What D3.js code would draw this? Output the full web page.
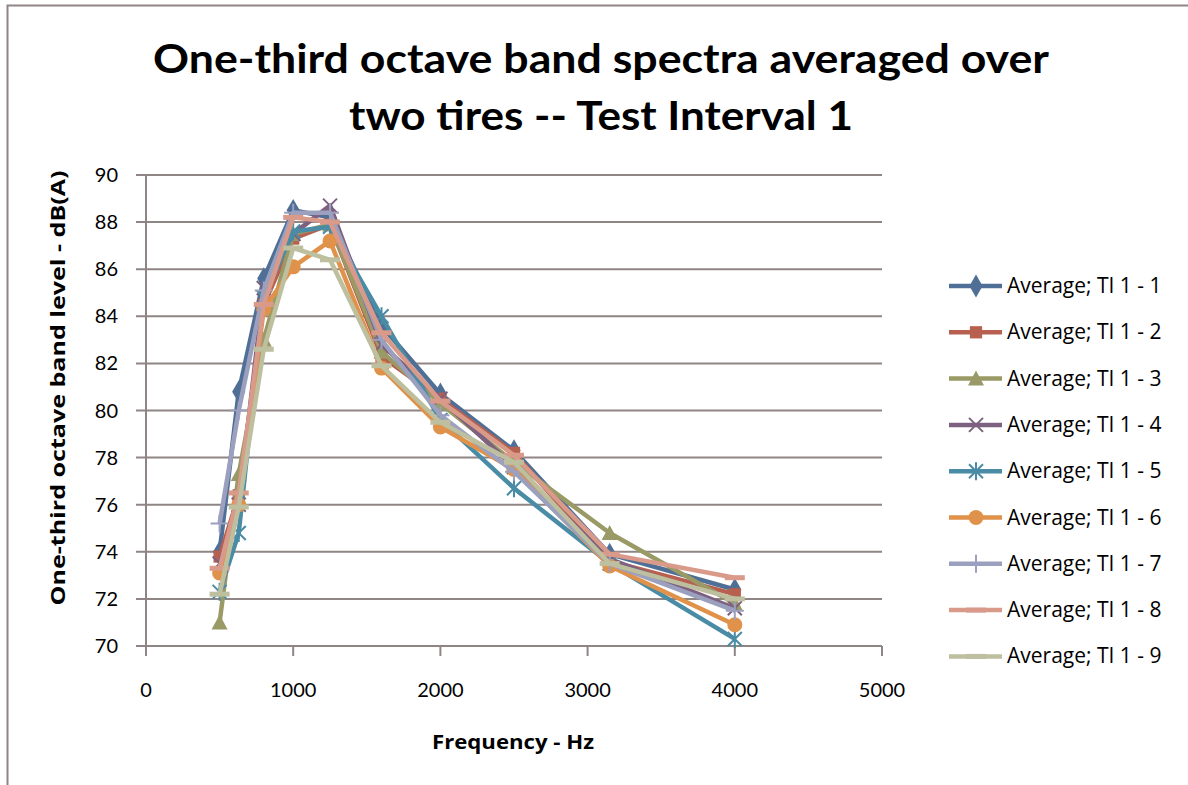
<!DOCTYPE html>
<html>
  <head>
    <meta charset="utf-8">
    <style>
body { margin: 0; background: #fff; overflow: hidden; }
text { font-family: Lato, "Open Sans", sans-serif; fill: #000; }
.title { font-weight: bold; font-size: 41px; }
.axis-title { font-weight: bold; font-size: 20px; font-family: "Open Sans", sans-serif; }
.tick-label { font-size: 20px; }
.legend text { font-size: 21px; font-family: "Open Sans", sans-serif; }
    </style>
    <script src="https://d3js.org/d3.v7.min.js"></script>
  </head>
  <body>
    <div id="chart"></div>
    <script>

// frequencies (Hz) for the one-third octave bands
var freqs = [500, 630, 800, 1000, 1250, 1600, 2000, 2500, 3150, 4000];

var seriesNames = ["Average; TI 1 - 1", "Average; TI 1 - 2", "Average; TI 1 - 3",
  "Average; TI 1 - 4", "Average; TI 1 - 5", "Average; TI 1 - 6",
  "Average; TI 1 - 7", "Average; TI 1 - 8", "Average; TI 1 - 9"];

var ti1 = [74.0, 80.8, 85.6, 88.5, 88.2, 83.6, 80.7, 78.3, 73.9, 72.4];
var ti2 = [73.8, 76.4, 84.5, 87.3, 87.9, 82.3, 80.5, 78.2, 73.6, 72.2];
var ti3 = [71.0, 77.3, 83.0, 87.5, 87.9, 82.5, 80.3, 77.8, 74.8, 71.8];
var ti4 = [73.5, 76.0, 85.2, 87.5, 88.7, 82.8, 80.5, 77.6, 73.7, 71.6];
var ti5 = [72.3, 74.8, 84.8, 87.6, 87.8, 84.0, 79.6, 76.7, 73.5, 70.3];
var ti6 = [73.1, 76.0, 84.3, 86.1, 87.2, 81.8, 79.3, 77.5, 73.4, 70.9];
var ti7 = [75.2, 80.0, 85.1, 88.4, 88.4, 83.0, 79.8, 77.4, 73.5, 71.5];
var ti8 = [73.3, 76.5, 84.5, 88.2, 88.0, 83.3, 80.4, 78.1, 73.9, 72.9];
var ti9 = [72.2, 75.9, 82.6, 86.9, 86.4, 81.9, 79.5, 77.8, 73.5, 72.0];

var seriesValues = [ti1, ti2, ti3, ti4, ti5, ti6, ti7, ti8, ti9];

var colors = ["#4F6F96", "#B8604F", "#9A9A66", "#7E6080", "#4A8BA5",
  "#E0924A", "#9BA0BE", "#D99A8A", "#BDBF9E"];
var markers = ["diamond", "square", "triangle", "x", "star", "circle", "plus", "dash", "dash"];

var xTicks = [0, 1000, 2000, 3000, 4000, 5000];
var yTicks = [70, 72, 74, 76, 78, 80, 82, 84, 86, 88, 90];

var width = 1188, height = 785;
var gridColor = "#8F8584";

var svg = d3.select("#chart").append("svg")
  .attr("width", width)
  .attr("height", height)
  .style("display", "block");

// chart frame (only left and top edges fall inside the picture)
svg.append("path")
  .attr("d", "M7.5," + (height + 5) + "V5.5H" + (width + 5))
  .attr("fill", "none")
  .attr("stroke", gridColor)
  .attr("stroke-width", 2);

var x = d3.scaleLinear().domain([0, 5000]).range([146, 882]);
var y = d3.scaleLinear().domain([70, 90]).range([646, 175]);

// title
svg.append("text").attr("class", "title")
  .attr("x", 601).attr("y", 73).attr("text-anchor", "middle")
  .attr("textLength", 896).attr("lengthAdjust", "spacingAndGlyphs")
  .text("One-third octave band spectra averaged over");
svg.append("text").attr("class", "title")
  .attr("x", 601).attr("y", 130).attr("text-anchor", "middle")
  .attr("textLength", 504).attr("lengthAdjust", "spacingAndGlyphs")
  .text("two tires -- Test Interval 1");

// horizontal grid
svg.append("g").selectAll("line")
  .data(yTicks).enter().append("line")
  .attr("x1", 136).attr("x2", 882)
  .attr("y1", function(d) { return y(d); })
  .attr("y2", function(d) { return y(d); })
  .attr("stroke", gridColor).attr("stroke-width", 2);

// y axis line
svg.append("line")
  .attr("x1", 146).attr("x2", 146).attr("y1", 175).attr("y2", 646)
  .attr("stroke", gridColor).attr("stroke-width", 2);

// x ticks
svg.append("g").selectAll("line")
  .data(xTicks).enter().append("line")
  .attr("x1", function(d) { return x(d); })
  .attr("x2", function(d) { return x(d); })
  .attr("y1", 646).attr("y2", 656)
  .attr("stroke", gridColor).attr("stroke-width", 2);

svg.append("g").selectAll("text")
  .data(yTicks).enter().append("text")
  .attr("class", "tick-label")
  .attr("x", 118).attr("y", function(d) { return y(d) + 7; })
  .attr("text-anchor", "end")
  .text(function(d) { return d; });

svg.append("g").selectAll("text")
  .data(xTicks).enter().append("text")
  .attr("class", "tick-label")
  .attr("x", function(d) { return x(d); }).attr("y", 697)
  .attr("text-anchor", "middle")
  .text(function(d) { return d; });

svg.append("text").attr("class", "axis-title")
  .attr("x", 513).attr("y", 749).attr("text-anchor", "middle")
  .attr("textLength", 162).attr("lengthAdjust", "spacingAndGlyphs")
  .text("Frequency - Hz");

svg.append("text").attr("class", "axis-title")
  .attr("transform", "translate(65,388) rotate(-90)")
  .attr("text-anchor", "middle")
  .attr("textLength", 435).attr("lengthAdjust", "spacingAndGlyphs")
  .text("One-third octave band level - dB(A)");

// marker drawing
function drawMarker(g, type, color) {
  if (type == "diamond") {
    g.append("path").attr("d", d3.symbol().type(d3.symbolDiamond).size(150)).attr("fill", color);
  } else if (type == "square") {
    g.append("path").attr("d", d3.symbol().type(d3.symbolSquare).size(150)).attr("fill", color);
  } else if (type == "triangle") {
    g.append("path").attr("d", "M0,-8L8,7L-8,7Z").attr("fill", color);
  } else if (type == "circle") {
    g.append("circle").attr("r", 7.5).attr("fill", color);
  } else if (type == "x") {
    g.append("path").attr("d", "M-7,-7L7,7M-7,7L7,-7")
      .attr("stroke", color).attr("stroke-width", 2).attr("fill", "none");
  } else if (type == "star") {
    g.append("path").attr("d", "M-7,-7L7,7M-7,7L7,-7M0,-9L0,9")
      .attr("stroke", color).attr("stroke-width", 2).attr("fill", "none");
  } else if (type == "plus") {
    g.append("path").attr("d", "M-9,0L9,0M0,-9L0,9")
      .attr("stroke", color).attr("stroke-width", 2).attr("fill", "none");
  } else if (type == "dash") {
    g.append("path").attr("d", "M-10,0L10,0")
      .attr("stroke", color).attr("stroke-width", 5).attr("fill", "none");
  }
}

var line = d3.line()
  .x(function(d, i) { return x(freqs[i]); })
  .y(function(d) { return y(d); });

seriesValues.forEach(function(vals, si) {
  var g = svg.append("g");
  g.append("path")
    .attr("d", line(vals))
    .attr("fill", "none")
    .attr("stroke", colors[si])
    .attr("stroke-width", 4.5)
    .attr("stroke-linejoin", "round");
  vals.forEach(function(v, i) {
    var m = g.append("g").attr("transform", "translate(" + x(freqs[i]) + "," + y(v) + ")");
    drawMarker(m, markers[si], colors[si]);
  });
});

// legend
var legend = svg.append("g").attr("class", "legend");
seriesNames.forEach(function(name, i) {
  var ly = 286 + i * 46.3;
  var lg = legend.append("g").attr("transform", "translate(0," + ly + ")");
  lg.append("line")
    .attr("x1", 949).attr("x2", 1002).attr("y1", 0).attr("y2", 0)
    .attr("stroke", colors[i]).attr("stroke-width", 4.5);
  var m = lg.append("g").attr("transform", "translate(976,0)");
  drawMarker(m, markers[i], colors[i]);
  lg.append("text").attr("x", 1007).attr("y", 7).text(name);
});

    </script>
  </body>
</html>
